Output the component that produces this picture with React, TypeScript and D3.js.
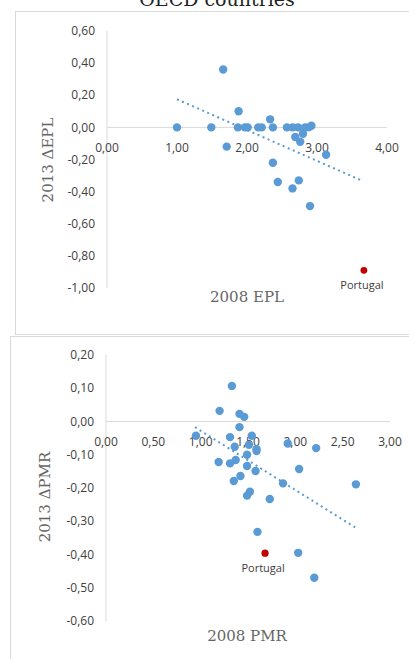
import React from "react";
import { scaleLinear, line } from "d3";

// 2008 EPL vs 2013 change in EPL (OECD countries)
const epl2008 = [1.0, 1.49, 1.71, 1.66, 1.88, 1.87, 1.97, 2.01, 2.16, 2.21, 2.33, 2.37, 2.37, 2.44, 2.57, 2.65, 2.65, 2.73, 2.69, 2.76, 2.74, 2.8, 2.83, 2.88, 2.92, 2.9, 3.13];
const eplChange = [0.0, 0.0, -0.12, 0.36, 0.1, 0.0, 0.0, 0.0, 0.0, 0.0, 0.05, 0.0, -0.22, -0.34, 0.0, 0.0, -0.38, 0.0, -0.06, -0.09, -0.33, -0.04, 0.0, 0.0, 0.01, -0.49, -0.17];
const eplPortugal = [3.67, -0.89];
const eplTrend = [[1.0, 0.175], [3.66, -0.335]];
const eplXTicks = [0, 1, 2, 3, 4];
const eplYTicks = [0.6, 0.4, 0.2, 0, -0.2, -0.4, -0.6, -0.8, -1.0];

// 2008 PMR vs 2013 change in PMR
const pmr2008 = [1.33, 1.2, 1.41, 1.46, 1.41, 0.95, 1.31, 1.36, 1.54, 1.51, 1.59, 1.92, 2.22, 1.19, 1.31, 1.37, 1.49, 1.49, 1.58, 1.42, 1.35, 2.04, 1.87, 2.64, 1.52, 1.49, 1.73, 1.6, 2.03, 2.2, 1.59];
const pmrChange = [0.107, 0.032, 0.023, 0.014, -0.017, -0.043, -0.047, -0.076, -0.043, -0.07, -0.083, -0.066, -0.08, -0.122, -0.126, -0.116, -0.1, -0.134, -0.149, -0.164, -0.179, -0.143, -0.186, -0.189, -0.211, -0.223, -0.233, -0.332, -0.395, -0.47, -0.089];
const pmrPortugal = [1.68, -0.396];
const pmrTrend = [[0.94, -0.017], [2.64, -0.32]];
const pmrXTicks = [0, 0.5, 1, 1.5, 2, 2.5, 3];
const pmrYTicks = [0.2, 0.1, 0, -0.1, -0.2, -0.3, -0.4, -0.5, -0.6];

const fmt = (v: number) => v.toFixed(2).replace(".", ",");
const tickFont = "'Open Sans', sans-serif";
const serif = "'DejaVu Serif', serif";

function Panel({ xs, ys, portugal, trend, xTicks, yTicks, xDomain, yDomain, xRange, yRange, yLabel, xLabel, yLabelPos, xLabelPos, rRed }) {
  const x = scaleLinear().domain(xDomain).range(xRange);
  const y = scaleLinear().domain(yDomain).range(yRange);
  const trendPath = line<number[]>().x((d) => x(d[0])).y((d) => y(d[1]))(trend);
  const x0 = x(xDomain[0]);
  const yZero = y(0);

  return (
    <g>
      <line x1={x0} x2={x0} y1={y(yDomain[1])} y2={y(yDomain[0])} stroke="#d9d9d9" />
      <line x1={x0} x2={x(xDomain[1])} y1={yZero} y2={yZero} stroke="#d9d9d9" />
      {yTicks.map((t) => (
        <text key={`y${t}`} x={x0 - 12} y={y(t)} dy="0.35em" textAnchor="end" fontSize={12} fontFamily={tickFont} fill="#404040">
          {fmt(t)}
        </text>
      ))}
      {xTicks.map((t) => (
        <text key={`x${t}`} x={x(t)} y={yZero + 20} dy="0.35em" textAnchor="middle" fontSize={12} fontFamily={tickFont} fill="#404040">
          {fmt(t)}
        </text>
      ))}
      {xs.map((v, i) => (
        <circle key={`p${i}`} cx={x(v)} cy={y(ys[i])} r={4.2} fill="#5b9bd5" />
      ))}
      <path d={trendPath} fill="none" stroke="#5b9bd5" strokeWidth={2} strokeDasharray="2 3.5" />
      <circle cx={x(portugal[0])} cy={y(portugal[1])} r={rRed} fill="#c00000" />
      <text x={x(portugal[0]) - 2} y={y(portugal[1]) + 15} dy="0.35em" textAnchor="middle" fontSize={11} fontFamily={tickFont} fill="#404040">
        Portugal
      </text>
      <text transform={`translate(${yLabelPos[0]},${yLabelPos[1]}) rotate(-90)`} textAnchor="middle" dy="0.35em" fontSize={15} fontFamily={serif} fill="#666">
        {yLabel}
      </text>
      <text x={xLabelPos[0]} y={xLabelPos[1]} textAnchor="middle" dy="0.35em" fontSize={15} fontFamily={serif} fill="#666">
        {xLabel}
      </text>
    </g>
  );
}

export default function App() {
  return (
    <svg width={409} height={659} style={{ position: "absolute", left: 0, top: 0, background: "#fff" }}>
      <text x={217} y={6} textAnchor="middle" fontSize={19} fontFamily={serif} fill="#222">
        OECD countries
      </text>
      <rect x={15.5} y={11.5} width={420} height={323} fill="none" stroke="#d9d9d9" />
      <rect x={10.5} y={336.5} width={420} height={340} fill="none" stroke="#d9d9d9" />
      <Panel
        xs={epl2008} ys={eplChange} portugal={eplPortugal} trend={eplTrend}
        xTicks={eplXTicks} yTicks={eplYTicks}
        xDomain={[0, 4]} yDomain={[-1, 0.6]} xRange={[107, 387]} yRange={[288, 31]}
        yLabel="2013 ΔEPL" xLabel="2008 EPL" yLabelPos={[48, 160]} xLabelPos={[247, 297]} rRed={3.4}
      />
      <Panel
        xs={pmr2008} ys={pmrChange} portugal={pmrPortugal} trend={pmrTrend}
        xTicks={pmrXTicks} yTicks={pmrYTicks}
        xDomain={[0, 3]} yDomain={[-0.6, 0.2]} xRange={[106, 390]} yRange={[621, 355]}
        yLabel="2013 ΔPMR" xLabel="2008 PMR" yLabelPos={[45, 497]} xLabelPos={[247, 636]} rRed={3.6}
      />
    </svg>
  );
}
